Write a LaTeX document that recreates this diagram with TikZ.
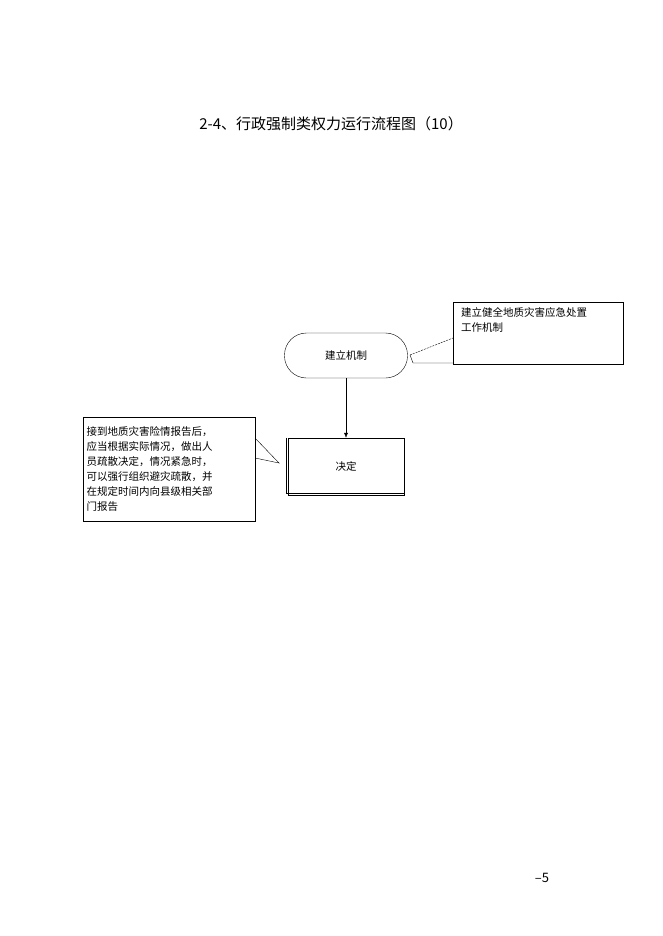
\documentclass[tikz,border=0pt]{standalone}
\usepackage{fontspec}
\setmainfont{Noto Sans CJK SC}
\usetikzlibrary{arrows.meta}
\begin{document}
\begin{tikzpicture}[x=1pt,y=-1pt,
  lbl/.style={font=\fontsize{10.5}{15}\selectfont},
  box/.style={draw,thin}]
\useasboundingbox (0,0) rectangle (662,936);
\node[font=\fontsize{15}{18}\selectfont] (title) at (331,124) {2-4、行政强制类权力运行流程图（10）};
\node[box,rounded corners=22pt,minimum width=123pt,minimum height=45pt,lbl] (start) at (346,355.5) {建立机制};
\node[box,minimum width=116pt,minimum height=57pt,lbl] (dec) at (346,466.5) {决定};
\draw[thin] ([xshift=-2pt]dec.north west) -- ([shift={(-2pt,2pt)}]dec.south west) -- ([yshift=2pt]dec.south east);
\draw[thin] (453,302) rectangle (623,364);
\node[lbl,anchor=north west,align=left,inner sep=0pt] (note1) at (461,307) {建立健全地质灾害应急处置\\工作机制};
\node[box,minimum width=172pt,minimum height=104pt,text width=165pt,align=left,anchor=north west,inner sep=3pt,lbl] (note2) at (83,417) {接到地质灾害险情报告后，\\应当根据实际情况，做出人\\员疏散决定，情况紧急时，\\可以强行组织避灾疏散，并\\在规定时间内向县级相关部\\门报告};
\coordinate (a1) at (410,355);
\draw[thin,dashed,dash pattern=on 2pt off 1pt] (a1) -- (453,338);
\draw[thin] (a1) -- (413,363) -- (453,363);
\coordinate (a2) at (279,463);
\draw[thin] (255,438) -- (a2) -- (255,458);
\draw[-{Latex[length=5pt,width=4pt]}] (start.south) -- (dec.north);
\node[font=\fontsize{13}{15}\selectfont] (pg) at (542,878) {–5};
\end{tikzpicture}
\end{document}
